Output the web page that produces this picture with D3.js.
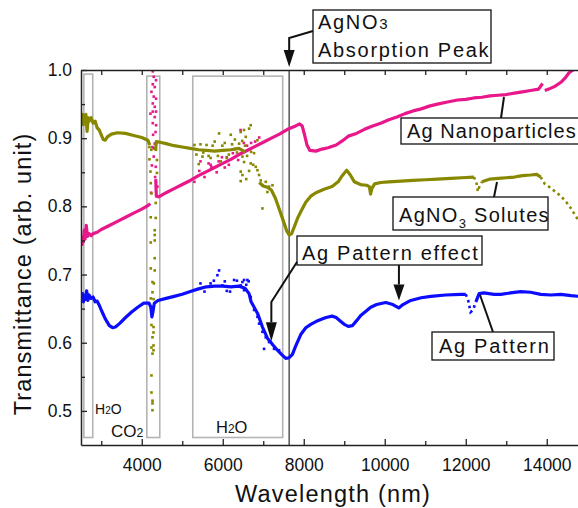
<!DOCTYPE html>
<html>
<head>
<meta charset="utf-8">
<script src="https://cdn.jsdelivr.net/npm/d3@7"></script>
<style>
  body { margin: 0; background: #fff; }
  text { font-family: "Liberation Sans", Arial, sans-serif; }
</style>
</head>
<body>
<svg id="chart" width="578" height="508"></svg>
<script>
// ticks
let xMajor = [4000, 6000, 8000, 10000, 12000, 14000];
let xMinor = [3000, 5000, 7000, 9000, 11000, 13000];
let yMajor = [0.5, 0.6, 0.7, 0.8, 0.9, 1.0];
let yMinor = [0.55, 0.65, 0.75, 0.85, 0.95];

// absorption bands (nm) and AgNO3 peak
let bandRanges = [[2570, 2790], [4125, 4445], [5260, 7480]];
let absorptionPeak = 7640;

// Ag Nanoparticles (magenta)
let nanoLine = [[2520,0.742],[2540,0.755],[2560,0.748],[2580,0.765],[2600,0.752],[2630,0.772],[2660,0.756],[2700,0.76],[2750,0.757],[2800,0.76],[2900,0.762],[3000,0.766],[3200,0.772],[3400,0.778],[3600,0.784],[3800,0.79],[4000,0.796],[4150,0.801],[4210,0.804],null,
  [4345,0.84],[4360,0.815],[4420,0.814],[4600,0.82],[4800,0.826],[5000,0.832],[5200,0.838],[5400,0.845],[5600,0.851],[5800,0.857],[6000,0.863],[6200,0.869],[6400,0.876],[6600,0.882],[6800,0.888],[7000,0.894],[7200,0.9],[7400,0.906],[7600,0.913],[7800,0.918],[7900,0.921],[7960,0.918],[8020,0.905],[8080,0.89],[8150,0.882],[8300,0.881],[8450,0.884],[8600,0.886],[8800,0.89],[8950,0.896],[9100,0.903],[9300,0.907],[9500,0.913],[9700,0.918],[9900,0.922],[10100,0.927],[10300,0.931],[10500,0.936],[10700,0.94],[10900,0.943],[11100,0.947],[11300,0.95],[11550,0.953],[11800,0.956],[12000,0.957],[12200,0.959],[12400,0.96],[12600,0.962],[12800,0.963],[13000,0.964],[13200,0.966],[13400,0.968],[13600,0.97],[13800,0.972],[13870,0.978],[13900,0.98],null,
  [13950,0.97],[14050,0.972],[14200,0.976],[14350,0.982],[14450,0.988],[14550,0.996],[14650,1.0],[14800,1.006]];
let nanoTail = [];
let nanoDots = [[4272,0.998],[4296,0.99],[4272,0.979],[4353,0.985],[4240,0.968],[4321,0.975],[4296,0.961],[4353,0.958],[4272,0.951],[4321,0.946],[4215,0.936],[4272,0.939],[4353,0.939],[4321,0.931],[4272,0.922],[4353,0.919],[4340,0.909],[4321,0.892],[4296,0.885],[4264,0.887],[4296,0.873],[4346,0.858],[4330,0.843],[4388,0.829],[4250,0.86],[4280,0.905],[4230,0.82],
  [5450,0.866],[5650,0.863],[6440,0.912],[6520,0.893],[6100,0.872],[5900,0.866],[6300,0.884],[6700,0.893],[6900,0.901],
  [5300,0.836],[5420,0.852],[5550,0.843],[5720,0.858],[5850,0.85],[5980,0.872],[6150,0.861],[6250,0.878],[6380,0.868],[6600,0.889],[6800,0.895],[5700,0.861],[6050,0.857]];

// AgNO3 Solutes (olive)
let solutesLine = [[2520,0.928],[2540,0.935],[2560,0.92],[2580,0.932],[2600,0.926],[2620,0.935],[2650,0.91],[2680,0.93],[2700,0.925],[2750,0.93],[2800,0.922],[2850,0.925],[2900,0.915],[2950,0.912],[3000,0.905],[3050,0.898],[3100,0.897],[3150,0.902],[3250,0.906],[3400,0.908],[3600,0.907],[3800,0.904],[4000,0.901],[4150,0.897],[4200,0.89],null,
  [4340,0.882],[4360,0.895],[4450,0.894],[4600,0.892],[4800,0.889],[5000,0.887],[5200,0.885],[5400,0.883],[5600,0.882],[5800,0.881],[6000,0.882],[6200,0.883],[6400,0.885],[6550,0.88],null,
  [6900,0.835],[7000,0.83],[7100,0.828],[7200,0.824],[7300,0.812],[7400,0.795],[7500,0.778],[7580,0.764],[7640,0.758],[7700,0.76],[7780,0.772],[7850,0.783],[7926,0.792],[8050,0.806],[8173,0.815],[8300,0.82],[8500,0.825],[8700,0.829],[8850,0.836],[8950,0.845],[9060,0.853],[9150,0.846],[9250,0.836],[9400,0.832],[9550,0.831],[9620,0.829],[9650,0.818],[9680,0.826],[9750,0.833],[9900,0.835],[10100,0.836],[10400,0.837],[10700,0.838],[11000,0.839],[11300,0.84],[11630,0.841],[11900,0.842],[12200,0.843],null,
  [12400,0.836],[12600,0.84],[12800,0.841],[13000,0.842],[13200,0.843],[13400,0.845],[13600,0.846],[13750,0.847],[13850,0.843]];
let solutesTail = [[12200,0.843],[12260,0.836],[12300,0.822],[12340,0.83],[12400,0.836],null,[13850,0.843],[13950,0.833],[14050,0.829],[14200,0.822],[14350,0.815],[14500,0.805],[14600,0.797],[14700,0.787],[14800,0.778]];
let solutesDots = [[4190,0.887],[4235,0.883],[4190,0.869],[4215,0.851],[4350,0.883],[4375,0.868],[4375,0.849],[4222,0.834],[4240,0.819],[4345,0.805],[4222,0.784],[4345,0.783],[4320,0.765],[4320,0.758],[4222,0.747],[4320,0.75],[4320,0.724],[4222,0.709],[4320,0.706],[4265,0.689],[4300,0.687],[4265,0.674],[4222,0.665],[4290,0.664],[4265,0.652],[4240,0.626],[4290,0.623],[4290,0.615],[4265,0.608],[4290,0.596],[4240,0.593],[4290,0.589],[4265,0.584],[4240,0.552],[4240,0.527],[4265,0.515],[4265,0.511],[4265,0.501],
  [5407,0.862],[5909,0.907],[6198,0.905],[6444,0.909],[6526,0.912],[6691,0.919],[6650,0.914],[6568,0.902],[6403,0.892],[6857,0.897],[6773,0.878],[6486,0.873],[6526,0.865],[6691,0.863],[6444,0.851],[6486,0.846],[6444,0.837],[6815,0.858],[6857,0.853],[6896,0.846],[6938,0.838],[6980,0.831],[7062,0.836],[7143,0.829],[6980,0.797],[7103,0.821],[7227,0.831],[6580,0.84],[6650,0.852],
  [5300,0.89],[5500,0.873],[5700,0.871],[5950,0.866],[6150,0.876],[5600,0.89],[5800,0.895],[6050,0.893],[6300,0.898],[6550,0.889],[6750,0.861],
  [5350,0.876],[5450,0.891],[5520,0.879],[5650,0.874],[5750,0.889],[5880,0.874],[5990,0.889],[6100,0.871],[6230,0.891],[6350,0.879],[6480,0.896],[6600,0.874],[6700,0.88]];

// Ag Pattern (blue)
let patternLine = [[2520,0.664],[2540,0.672],[2560,0.66],[2580,0.668],[2600,0.663],[2640,0.676],[2670,0.662],[2700,0.67],[2750,0.665],[2800,0.667],[2850,0.66],[2900,0.661],[2950,0.655],[3000,0.648],[3100,0.635],[3200,0.625],[3280,0.622],[3350,0.623],[3450,0.628],[3600,0.637],[3750,0.645],[3900,0.652],[4050,0.658],[4180,0.658],[4225,0.652],[4250,0.638],[4275,0.645],[4310,0.658],[4400,0.662],[4600,0.665],[4800,0.668],[5000,0.671],[5200,0.675],[5400,0.679],[5600,0.682],[5800,0.683],[6000,0.683],[6200,0.682],[6400,0.683],[6550,0.68],[6650,0.672],[6700,0.66],[6860,0.643],[6980,0.623],[7100,0.607],[7250,0.596],[7350,0.589],[7450,0.583],[7556,0.577],[7640,0.578],[7720,0.583],[7800,0.595],[7926,0.612],[8050,0.622],[8173,0.627],[8300,0.631],[8420,0.634],[8550,0.637],[8700,0.639],[8800,0.637],[8900,0.632],[9000,0.627],[9100,0.624],[9200,0.625],[9300,0.632],[9407,0.64],[9550,0.647],[9654,0.652],[9800,0.656],[10025,0.659],[10200,0.656],[10346,0.651],[10450,0.656],[10642,0.662],[10900,0.666],[11136,0.668],[11500,0.67],[11877,0.671],[12000,0.671],null,
  [12250,0.66],[12330,0.672],[12450,0.673],[12700,0.671],[12864,0.671],[13100,0.673],[13358,0.675],[13600,0.674],[13852,0.671],[14100,0.67],[14346,0.671],[14600,0.669],[14800,0.668]];
let patternTail = [[12000,0.671],[12060,0.662],[12120,0.645],[12180,0.648],[12250,0.66]];
let patternDots = [[5909,0.706],[5868,0.699],[5992,0.684],[6280,0.692],[6486,0.689],[6609,0.692],[6526,0.677],[6691,0.667],[6773,0.648],[6857,0.638],[6898,0.628],[6980,0.616],[7062,0.608],[7020,0.591],[7143,0.601],[7267,0.591],[7390,0.589],[6526,0.692],[6444,0.684],[6100,0.676],[5700,0.687],
  [5450,0.687],[5550,0.675],[5780,0.691],[6050,0.69],[6180,0.675],[6350,0.691],[6580,0.685],[6640,0.69]];

let width = 578, height = 508;
let margin = {left: 81, top: 70, bottom: 445};
let svg = d3.select("#chart");

let x = d3.scaleLinear().domain([2500, 15000]).range([margin.left, margin.left + 12500 * 0.0405]);
let y = d3.scaleLinear().domain([0.45, 1.0]).range([margin.bottom, margin.top]);
let plotW = x.range()[1] - x.range()[0];
let plotH = margin.bottom - margin.top;

svg.append("clipPath").attr("id", "plotclip")
    .append("rect")
    .attr("x", margin.left).attr("y", margin.top)
    .attr("width", plotW).attr("height", plotH);

// gray absorption bands
let bandTop = [0.994, 0.991, 0.991];
bandRanges.forEach((b, i) => {
    svg.append("rect")
        .attr("x", x(b[0])).attr("y", y(bandTop[i]))
        .attr("width", x(b[1]) - x(b[0]))
        .attr("height", y(0.461) - y(bandTop[i]))
        .attr("fill", "none").attr("stroke", "#b4b4b4").attr("stroke-width", 1.6);
});

// AgNO3 peak line
svg.append("line")
    .attr("x1", x(absorptionPeak)).attr("x2", x(absorptionPeak))
    .attr("y1", margin.top).attr("y2", margin.bottom)
    .attr("stroke", "#555").attr("stroke-width", 1.5);

let line = d3.line()
    .defined(d => d != null)
    .x(d => x(d[0])).y(d => y(d[1]));

let series = [
    {color: "#e8178a", main: nanoLine, tail: nanoTail, dots: nanoDots},
    {color: "#878700", main: solutesLine, tail: solutesTail, dots: solutesDots},
    {color: "#0c0cff", main: patternLine, tail: patternTail, dots: patternDots}
];

let dataG = svg.append("g").attr("clip-path", "url(#plotclip)");
series.forEach(s => {
    dataG.append("path").datum(s.main)
        .attr("d", line)
        .attr("fill", "none").attr("stroke", s.color)
        .attr("stroke-width", 3.2).attr("stroke-linejoin", "round");
    if (s.tail.length) {
        dataG.append("path").datum(s.tail)
            .attr("d", line)
            .attr("fill", "none").attr("stroke", s.color)
            .attr("stroke-width", 2.6).attr("stroke-dasharray", "2.6,3.4");
    }
    dataG.selectAll(null).data(s.dots).enter().append("rect")
        .attr("x", d => x(d[0]) - 1.3).attr("y", d => y(d[1]) - 1.3)
        .attr("width", 2.6).attr("height", 2.6)
        .attr("fill", s.color);
});

// axes
function styleAxis(g) {
    g.select(".domain").attr("stroke", "#222").attr("stroke-width", 1.5);
    g.selectAll(".tick line").attr("stroke", "#222").attr("stroke-width", 1.3);
    g.selectAll(".tick text").attr("fill", "#111").style("font-size", "17.5px")
        .style("font-family", "'Liberation Sans', Arial, sans-serif");
}

svg.append("g").attr("transform", `translate(0,${margin.bottom})`)
    .call(d3.axisBottom(x).tickValues(xMajor).tickSize(-6).tickPadding(14).tickSizeOuter(0).tickFormat(d3.format("d")))
    .call(styleAxis);
svg.append("g").attr("transform", `translate(0,${margin.bottom})`)
    .call(d3.axisBottom(x).tickValues(xMinor).tickSize(-4).tickFormat(""))
    .call(styleAxis).select(".domain").remove();
svg.append("g").attr("transform", `translate(0,${margin.top})`)
    .call(d3.axisTop(x).tickValues(xMajor.concat(xMinor)).tickSize(-5).tickSizeOuter(0).tickFormat(""))
    .call(styleAxis);
svg.append("g").attr("transform", `translate(${margin.left},0)`)
    .call(d3.axisLeft(y).tickValues(yMajor).tickSize(-6).tickPadding(9).tickSizeOuter(0).tickFormat(d3.format(".1f")))
    .call(styleAxis);
svg.append("g").attr("transform", `translate(${margin.left},0)`)
    .call(d3.axisLeft(y).tickValues(yMinor).tickSize(-4).tickFormat(""))
    .call(styleAxis).select(".domain").remove();

// axis titles
svg.append("text")
    .attr("transform", "rotate(-90)")
    .attr("x", -274).attr("y", 31)
    .attr("text-anchor", "middle")
    .style("font-size", "23.5px").style("letter-spacing", "1.1px")
    .attr("fill", "#111")
    .text("Transmittance (arb. unit)");
svg.append("text")
    .attr("x", 333).attr("y", 502)
    .attr("text-anchor", "middle")
    .style("font-size", "23.5px").style("letter-spacing", "1.2px")
    .attr("fill", "#111")
    .text("Wavelength (nm)");

// band labels
function subLabel(px, py, size, a, sub, b) {
    let t = svg.append("text").attr("x", px).attr("y", py)
        .style("font-size", size + "px").attr("fill", "#111");
    t.append("tspan").text(a);
    t.append("tspan").style("font-size", (size * 0.72) + "px").text(sub);
    t.append("tspan").text(b);
    return t;
}
subLabel(95, 414, 14, "H", "2", "O");
subLabel(111, 437, 17, "CO", "2", "");
subLabel(216, 433, 16.5, "H", "2", "O");

// annotation boxes
function box(bx, by, bw, bh) {
    svg.append("rect")
        .attr("x", bx).attr("y", by).attr("width", bw).attr("height", bh)
        .attr("fill", "#fff").attr("stroke", "#111").attr("stroke-width", 1.3);
}
function label(px, py, spacing) {
    return svg.append("text").attr("x", px).attr("y", py)
        .style("font-size", "20px").style("letter-spacing", (spacing || 1.7) + "px").attr("fill", "#111");
}
function leader(pts) {
    svg.append("path").attr("d", d3.line()(pts))
        .attr("fill", "none").attr("stroke", "#111").attr("stroke-width", 2);
}
function arrow(pts, tip) {
    leader(pts);
    let last = pts[pts.length - 1];
    svg.append("path")
        .attr("d", d3.line()([[last[0] - 5.5, last[1]], [last[0] + 5.5, last[1]], tip]) + "Z")
        .attr("fill", "#111");
}

// AgNO3 absorption peak
box(313, 10, 178, 53);
let t1 = label(318, 29);
t1.append("tspan").text("AgNO");
t1.append("tspan").style("font-size", "15px").text("3");
label(318, 57).text("Absorption Peak");
let px = x(absorptionPeak);
arrow([[313, 31], [px, 38], [px, 50]], [px, margin.top - 3]);

// Ag Nanoparticles
leader([[501, 118], [504, 97]]);
box(401, 118, 190, 26);
label(407, 138, 1.1).text("Ag Nanoparticles");

// AgNO3 Solutes
leader([[494, 197], [497, 182]]);
box(393, 197, 155, 33);
let t2 = label(399, 222, 1.3);
t2.append("tspan").text("AgNO");
t2.append("tspan").attr("dy", 6).style("font-size", "13px").text("3");
t2.append("tspan").attr("dy", -6).text(" Solutes");

// Ag Pattern effect
box(297, 236, 185, 29);
label(302, 260).text("Ag Pattern effect");
let e1 = [7200, 0.602], e2 = [10350, 0.662];
arrow([[297, 262], [x(e1[0]), 302], [x(e1[0]), y(e1[1]) - 19]], [x(e1[0]), y(e1[1])]);
arrow([[x(e2[0]), 265], [x(e2[0]), y(e2[1]) - 16]], [x(e2[0]), y(e2[1])]);

// Ag Pattern
leader([[493, 332], [480, 295]]);
box(432, 332, 122, 28);
label(439, 353).text("Ag Pattern");
</script>
</body>
</html>
